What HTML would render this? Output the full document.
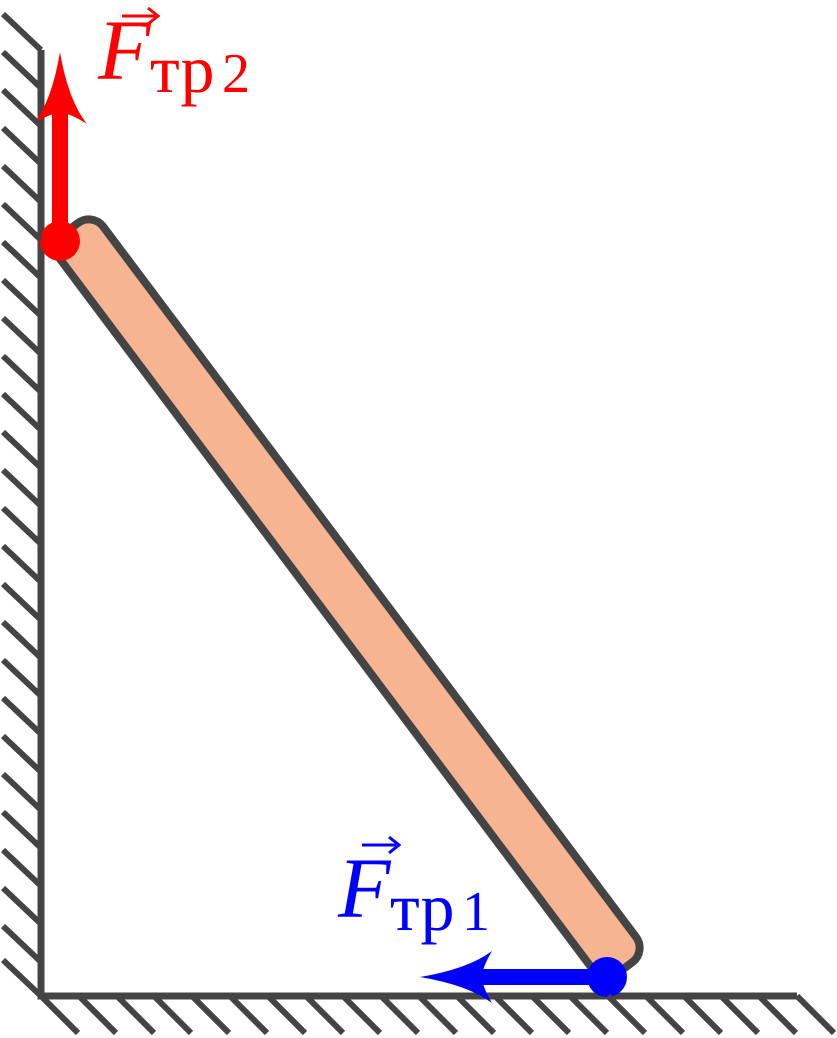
<!DOCTYPE html>
<html><head><meta charset="utf-8"><style>
html,body{margin:0;padding:0;background:#fff;width:837px;height:1038px;overflow:hidden}
svg{display:block}
</style></head><body>
<svg width="837" height="1038" viewBox="0 0 837 1038" xmlns="http://www.w3.org/2000/svg">
<g stroke="#444" stroke-width="7" fill="none">
<line x1="41" y1="50" x2="41" y2="999"/>
<line x1="37.5" y1="996" x2="797" y2="996"/>
</g>
<rect x="-462" y="-27" width="924" height="54" rx="18" fill="#f7b491" stroke="#444" stroke-width="8" transform="translate(348,598) rotate(53.13)"/>
<!-- red -->
<line x1="60" y1="241" x2="60" y2="110" stroke="#f00" stroke-width="16"/>
<path d="M60,52 Q68,100 87,124 Q70,113 60,113 Q50,113 34,124 Q52,100 60,52Z" fill="#f00"/>
<circle cx="60" cy="241" r="20" fill="#f00"/>
<g fill="#f00" font-family="Liberation Serif, serif">
<text x="98" y="79" font-size="86" font-style="italic">F</text>
<text x="150" y="92" font-size="68">тр</text>
<text x="222" y="92" font-size="56">2</text>
<path d="M122,16 L155,16" stroke="#f00" stroke-width="3"/>
<path d="M148,8 L158,16 L148,24" stroke="#f00" stroke-width="3" fill="none"/>
</g>
<!-- blue -->
<line x1="607" y1="977" x2="480" y2="977" stroke="#00f" stroke-width="16"/>
<path d="M420,977 Q468,969 492,951 Q482,968 482,977 Q482,986 492,1003 Q468,985 420,977Z" fill="#00f"/>
<circle cx="607" cy="977" r="20" fill="#00f"/>
<g fill="#00f" font-family="Liberation Serif, serif">
<text x="338" y="917" font-size="86" font-style="italic">F</text>
<text x="390" y="930" font-size="68">тр</text>
<text x="462" y="930" font-size="56">1</text>
<path d="M362,845 L396,845" stroke="#00f" stroke-width="3"/>
<path d="M389,837 L399,845 L389,853" stroke="#00f" stroke-width="3" fill="none"/>
</g>
<g stroke="#444" stroke-width="6">
<line x1="3" y1="14" x2="41" y2="50"/>
<line x1="3" y1="52" x2="41" y2="88"/>
<line x1="3" y1="90" x2="41" y2="126"/>
<line x1="3" y1="128" x2="41" y2="164"/>
<line x1="3" y1="166" x2="41" y2="202"/>
<line x1="3" y1="204" x2="41" y2="240"/>
<line x1="3" y1="242" x2="41" y2="278"/>
<line x1="3" y1="280" x2="41" y2="316"/>
<line x1="3" y1="318" x2="41" y2="354"/>
<line x1="3" y1="356" x2="41" y2="392"/>
<line x1="3" y1="394" x2="41" y2="430"/>
<line x1="3" y1="432" x2="41" y2="468"/>
<line x1="3" y1="470" x2="41" y2="506"/>
<line x1="3" y1="508" x2="41" y2="544"/>
<line x1="3" y1="546" x2="41" y2="582"/>
<line x1="3" y1="584" x2="41" y2="620"/>
<line x1="3" y1="622" x2="41" y2="658"/>
<line x1="3" y1="660" x2="41" y2="696"/>
<line x1="3" y1="698" x2="41" y2="734"/>
<line x1="3" y1="736" x2="41" y2="772"/>
<line x1="3" y1="774" x2="41" y2="810"/>
<line x1="3" y1="812" x2="41" y2="848"/>
<line x1="3" y1="850" x2="41" y2="886"/>
<line x1="3" y1="888" x2="41" y2="924"/>
<line x1="3" y1="926" x2="41" y2="962"/>
<line x1="3" y1="960" x2="41" y2="996"/>
</g>
<g stroke="#444" stroke-width="6">
<line x1="41" y1="996" x2="78" y2="1033"/>
<line x1="79" y1="996" x2="116" y2="1033"/>
<line x1="117" y1="996" x2="154" y2="1033"/>
<line x1="154" y1="996" x2="191" y2="1033"/>
<line x1="192" y1="996" x2="229" y2="1033"/>
<line x1="230" y1="996" x2="267" y2="1033"/>
<line x1="268" y1="996" x2="305" y2="1033"/>
<line x1="306" y1="996" x2="343" y2="1033"/>
<line x1="343" y1="996" x2="380" y2="1033"/>
<line x1="381" y1="996" x2="418" y2="1033"/>
<line x1="419" y1="996" x2="456" y2="1033"/>
<line x1="457" y1="996" x2="494" y2="1033"/>
<line x1="495" y1="996" x2="532" y2="1033"/>
<line x1="532" y1="996" x2="569" y2="1033"/>
<line x1="570" y1="996" x2="607" y2="1033"/>
<line x1="608" y1="996" x2="645" y2="1033"/>
<line x1="646" y1="996" x2="683" y2="1033"/>
<line x1="684" y1="996" x2="721" y2="1033"/>
<line x1="721" y1="996" x2="758" y2="1033"/>
<line x1="759" y1="996" x2="796" y2="1033"/>
<line x1="797" y1="996" x2="834" y2="1033"/>
</g>
</svg>
</body></html>
